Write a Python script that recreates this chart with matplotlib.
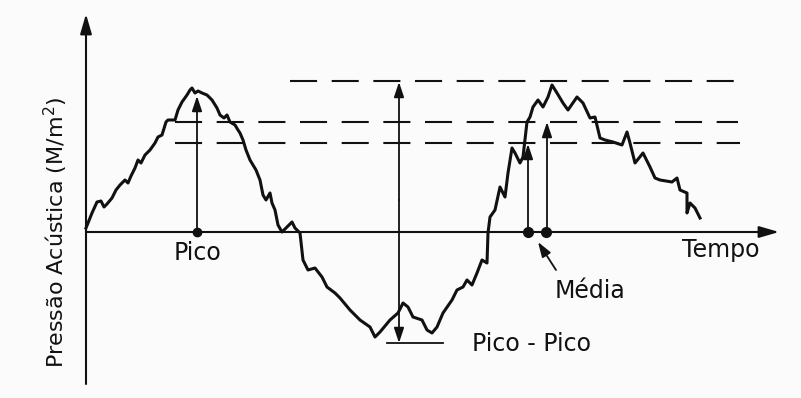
import matplotlib
matplotlib.use("Agg")
import matplotlib.pyplot as plt
import numpy as np

# Waveform (time, pressure) (arbitrary units; origin at axes crossing)
wave_x = [86, 92, 97, 101, 104, 107, 112, 116, 120, 125, 128, 131, 135, 138, 141, 145, 150, 155, 158, 162,
          166, 168, 175, 178, 182, 187, 190, 192, 195, 198, 202, 207, 212, 217, 220, 224, 227, 230, 235, 238,
          240, 243, 246, 250, 253, 256, 260, 263, 266, 270, 272, 275, 278, 282, 287, 292, 295, 300, 303, 308,
          315, 322, 327, 335, 340, 350, 360, 370, 375, 380, 390, 398, 403, 408, 413, 422, 427, 432, 437, 443,
          452, 457, 463, 467, 472, 477, 482, 487, 488, 490, 495, 500, 503, 505, 508, 512, 515, 520, 523, 527,
          530, 533, 538, 543, 548, 552, 557, 563, 568, 577, 583, 590, 595, 600, 605, 613, 622, 627, 630, 635,
          643, 650, 655, 660, 672, 677, 680, 687, 687, 690, 695, 700]
wave_y = [228, 213, 202, 201, 207, 204, 198, 190, 185, 180, 183, 176, 168, 160, 163, 155, 150, 143, 137, 135,
          122, 120, 120, 110, 102, 95, 90, 88, 93, 91, 93, 95, 100, 108, 115, 118, 115, 122, 125, 130,
          133, 140, 150, 160, 165, 170, 180, 195, 200, 193, 203, 210, 225, 232, 227, 222, 228, 233, 260, 270,
          268, 277, 287, 293, 298, 310, 320, 327, 337, 332, 320, 313, 303, 307, 317, 320, 330, 333, 327, 313,
          300, 290, 287, 280, 285, 273, 260, 263, 233, 217, 210, 187, 193, 197, 173, 148, 153, 163, 157, 122,
          117, 107, 100, 107, 97, 85, 93, 103, 110, 97, 103, 118, 117, 138, 140, 142, 145, 132, 143, 163,
          153, 167, 178, 180, 182, 178, 190, 193, 213, 203, 208, 218]

ZERO = 232
t = np.array(wave_x) - 86
p = ZERO - np.array(wave_y)

# Reference levels (pressure)
levels = [ZERO - 81, ZERO - 122, ZERO - 143]
level_start = [290 - 86, 175 - 86, 175 - 86]
level_end = [735 - 86, 738 - 86, 740 - 86]

fig = plt.figure(figsize=(8.01, 3.98), dpi=100)
fig.patch.set_facecolor("#fbfbfb")
ax = fig.add_axes([0, 0, 1, 1])
ax.set_facecolor("#fbfbfb")
ax.set_xlim(-86, 801 - 86)
ax.set_ylim(ZERO - 398, ZERO)
ax.axis("off")

k = "#111111"
# axes
ax.annotate("", xy=(0, ZERO - 14), xytext=(0, ZERO - 384),
            arrowprops=dict(arrowstyle="-|>,head_length=1.2,head_width=0.35", lw=1.5, color=k, shrinkA=0, shrinkB=0))
ax.annotate("", xy=(779 - 86, 0), xytext=(0, 0),
            arrowprops=dict(arrowstyle="-|>,head_length=1.2,head_width=0.35", lw=1.5, color=k, shrinkA=0, shrinkB=0))

# dashed levels
for lv, s, e in zip(levels, level_start, level_end):
    ax.plot([s, e], [lv, lv], color=k, lw=1.5, dashes=(13, 7))

# waveform
ax.plot(t, p, color=k, lw=2.2, solid_joinstyle="round")

arrow = dict(arrowstyle="-|>,head_length=0.9,head_width=0.3", lw=1.3, color=k, shrinkA=0, shrinkB=0)
# Pico
ax.annotate("", xy=(197 - 86, ZERO - 96), xytext=(197 - 86, 0), arrowprops=arrow)
ax.plot([197 - 86], [0], "o", color=k, ms=6)
# Pico - Pico
ax.annotate("", xy=(399 - 86, ZERO - 82), xytext=(399 - 86, ZERO - 200), arrowprops=arrow)
ax.annotate("", xy=(399 - 86, ZERO - 343), xytext=(399 - 86, ZERO - 200), arrowprops=arrow)
ax.plot([387 - 86, 443 - 86], [ZERO - 343, ZERO - 343], color=k, lw=1.3)
# Media
ax.annotate("", xy=(528 - 86, ZERO - 144), xytext=(528 - 86, 0), arrowprops=arrow)
ax.annotate("", xy=(547 - 86, ZERO - 122), xytext=(547 - 86, 0), arrowprops=arrow)
ax.plot([528 - 86, 546 - 86], [0, 0], "o", color=k, ms=7)
ax.annotate("", xy=(538 - 86, ZERO - 242), xytext=(556 - 86, ZERO - 270), arrowprops=arrow)

fs = 17
fam = "DejaVu Sans"
ax.text(197 - 86, ZERO - 253, "Pico", ha="center", va="center", fontsize=fs, family=fam, color=k)
ax.text(721 - 86, ZERO - 250, "Tempo", ha="center", va="center", fontsize=fs, family=fam, color=k)
ax.text(590 - 86, ZERO - 291, "Média", ha="center", va="center", fontsize=fs, family=fam, color=k)
ax.text(532 - 86, ZERO - 344, "Pico - Pico", ha="center", va="center", fontsize=fs, family=fam, color=k)
ax.text(56 - 86, ZERO - 232, "Pressão Acústica (M/m$^2$)", ha="center", va="center", rotation=90,
        fontsize=16, family=fam, color=k)

fig.savefig("out.png", dpi=100, facecolor=fig.get_facecolor())
